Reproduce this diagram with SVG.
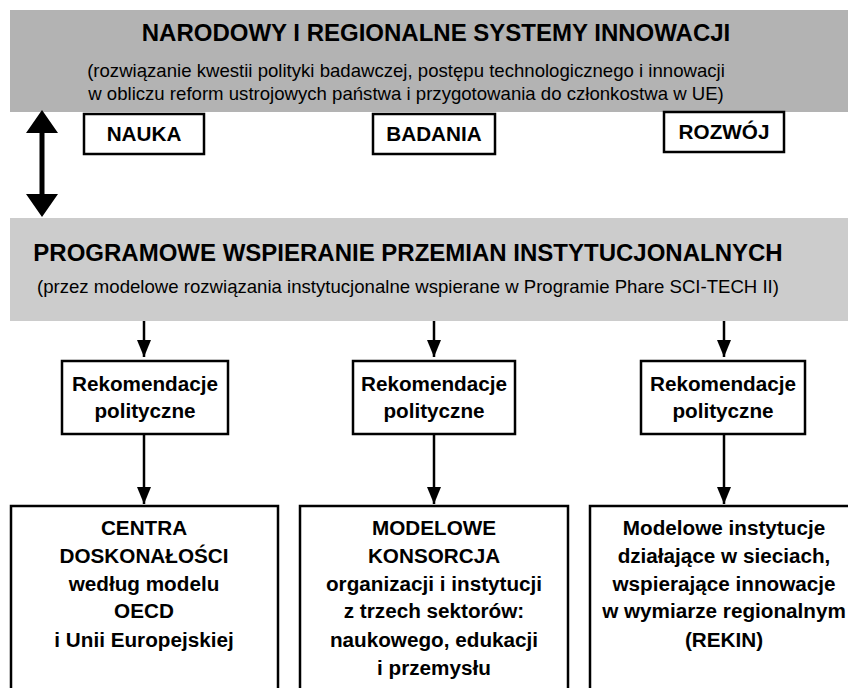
<svg xmlns="http://www.w3.org/2000/svg" width="848" height="688" viewBox="0 0 848 688">
<style>
text{font-family:"Liberation Sans",Arial,sans-serif;fill:#000;text-anchor:middle}
.t{font-size:24px;font-weight:bold}
.s{font-size:18.6px}
.b{font-size:20.7px;font-weight:bold}
.box{fill:#fff;stroke:#000;stroke-width:2.5}
.ln{stroke:#000;stroke-width:2.5;fill:none}
</style>
<defs>
<marker id="ah" viewBox="0 0 17 14" refX="17" refY="7" markerWidth="17" markerHeight="14" markerUnits="userSpaceOnUse" orient="auto">
<path d="M0,0 L17,7 L0,14 Z" fill="#000"/>
</marker>
</defs>
<rect width="848" height="688" fill="#fff"/>
<g id="band1">
<rect x="10" y="10" width="850" height="102" fill="#b3b3b3"/>
<text class="t" x="436" y="41">NARODOWY I REGIONALNE SYSTEMY INNOWACJI</text>
<text class="s" x="406" y="77">(rozwiązanie kwestii polityki badawczej, postępu technologicznego i innowacji</text>
<text class="s" x="406" y="100">w obliczu reform ustrojowych państwa i przygotowania do członkostwa w UE)</text>
</g>
<g id="nauka">
<rect class="box" x="84" y="114" width="120" height="40"/>
<text class="b" x="144" y="141">NAUKA</text>
</g>
<g id="badania">
<rect class="box" x="373" y="114" width="122" height="40"/>
<text class="b" x="434" y="141">BADANIA</text>
</g>
<g id="rozwoj">
<rect class="box" x="664" y="112" width="120" height="40"/>
<text class="b" x="724" y="139">ROZWÓJ</text>
</g>
<g id="band2">
<rect x="10" y="218" width="850" height="103" fill="#cccccc"/>
<text class="t" x="408" y="261">PROGRAMOWE WSPIERANIE PRZEMIAN INSTYTUCJONALNYCH</text>
<text class="s" x="408" y="293">(przez modelowe rozwiązania instytucjonalne wspierane w Programie Phare SCI-TECH II)</text>
</g>
<g id="rek1">
<rect class="box" x="62" y="361" width="166" height="73"/>
<text class="b" x="145" y="391">Rekomendacje</text>
<text class="b" x="145" y="418">polityczne</text>
</g>
<g id="rek2">
<rect class="box" x="353" y="361" width="162" height="73"/>
<text class="b" x="434" y="391">Rekomendacje</text>
<text class="b" x="434" y="418">polityczne</text>
</g>
<g id="rek3">
<rect class="box" x="641" y="361" width="164" height="73"/>
<text class="b" x="723" y="391">Rekomendacje</text>
<text class="b" x="723" y="418">polityczne</text>
</g>
<g id="centra">
<rect class="box" x="11" y="506" width="267" height="200"/>
<text class="b" x="144" y="535">CENTRA</text>
<text class="b" x="144" y="563">DOSKONAŁOŚCI</text>
<text class="b" x="144" y="591">według modelu</text>
<text class="b" x="144" y="618">OECD</text>
<text class="b" x="144" y="647">i Unii Europejskiej</text>
</g>
<g id="konsorcja">
<rect class="box" x="300" y="506" width="268" height="200"/>
<text class="b" x="434" y="535">MODELOWE</text>
<text class="b" x="434" y="563">KONSORCJA</text>
<text class="b" x="434" y="591">organizacji i instytucji</text>
<text class="b" x="434" y="618">z trzech sektorów:</text>
<text class="b" x="434" y="647">naukowego, edukacji</text>
<text class="b" x="434" y="675">i przemysłu</text>
</g>
<g id="rekin">
<rect class="box" x="590" y="506" width="270" height="200"/>
<text class="b" x="724" y="535">Modelowe instytucje</text>
<text class="b" x="724" y="563">działające w sieciach,</text>
<text class="b" x="724" y="591">wspierające innowacje</text>
<text class="b" x="724" y="618">w wymiarze regionalnym</text>
<text class="b" x="724" y="647">(REKIN)</text>
</g>
<g id="connectors">
<path d="M42,110 L58,133 L44.5,133 L44.5,194 L58,194 L42,217 L26,194 L39.5,194 L39.5,133 L26,133 Z" fill="#000"/>
<line class="ln" x1="144" y1="321" x2="144" y2="357" marker-end="url(#ah)"/>
<line class="ln" x1="434" y1="321" x2="434" y2="357" marker-end="url(#ah)"/>
<line class="ln" x1="724" y1="321" x2="724" y2="357" marker-end="url(#ah)"/>
<line class="ln" x1="144" y1="434" x2="144" y2="504" marker-end="url(#ah)"/>
<line class="ln" x1="434" y1="434" x2="434" y2="504" marker-end="url(#ah)"/>
<line class="ln" x1="724" y1="434" x2="724" y2="504" marker-end="url(#ah)"/>
</g>
</svg>
